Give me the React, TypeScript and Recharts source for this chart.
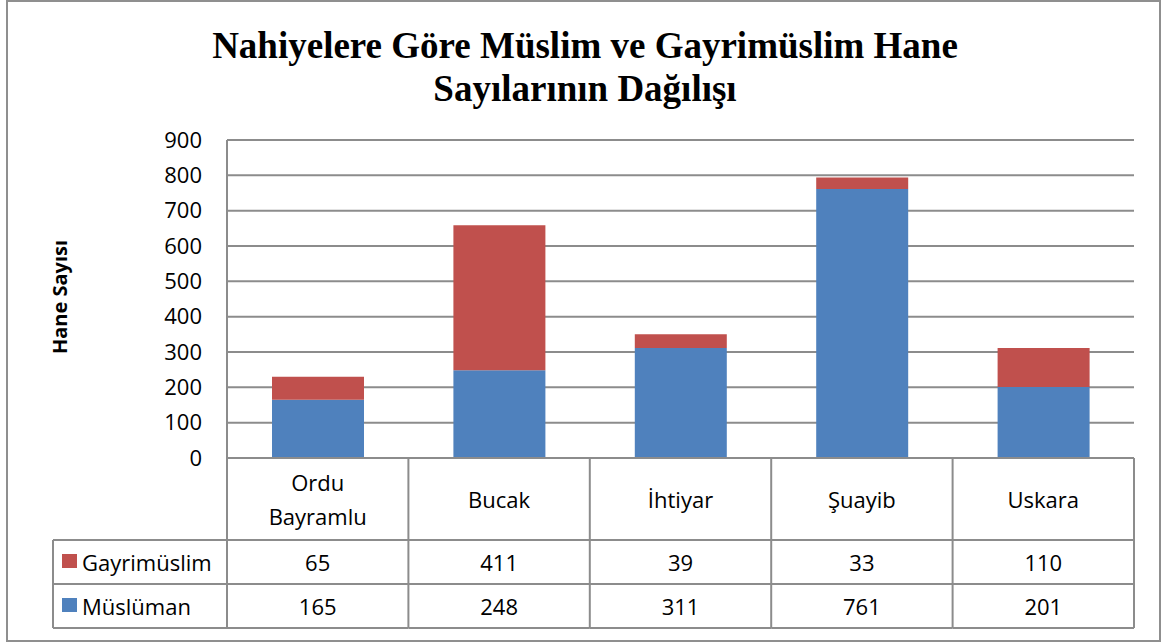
import { BarChart, Bar, XAxis, YAxis, CartesianGrid } from "recharts";

const categories = ["Ordu Bayramlu", "Bucak", "İhtiyar", "Şuayib", "Uskara"];
const muslim = [165, 248, 311, 761, 201];
const gayrimuslim = [65, 411, 39, 33, 110];
const yTicks = [0, 100, 200, 300, 400, 500, 600, 700, 800, 900];
const seriesNames = { gayri: "Gayrimüslim", muslim: "Müslüman" };

const BLUE = "#4F81BD";
const RED = "#C0504D";
const LINE = "#8c8c8c";
const FONT = "'Open Sans', sans-serif";
const FS = 22;

const PLOT_LEFT = 227;
const PLOT_RIGHT = 1134;
const TABLE_H = 171;
const CAT_ROW = 82;
const VAL_ROW = 44;
const LEGEND_LEFT = 53;

const data = categories.map((name, i) => ({
  name,
  muslim: muslim[i],
  gayri: gayrimuslim[i],
}));

function TableTick(props: any) {
  const { x, y, payload, index } = props;
  const cellW = (PLOT_RIGHT - PLOT_LEFT) / categories.length;
  const left = x - cellW / 2;
  const right = x + cellW / 2;
  const words = String(payload.value).split(" ");
  const lines = words.length > 1 ? words : [payload.value];
  const catMid = y + CAT_ROW / 2;
  const r1 = y + CAT_ROW;
  const r2 = r1 + VAL_ROW;
  const r3 = r2 + VAL_ROW;
  const txt = { fontFamily: FONT, fontSize: FS, fill: "#000" };
  return (
    <g>
      {lines.map((ln: string, k: number) => (
        <text
          key={k}
          x={x}
          y={catMid + (k - (lines.length - 1) / 2) * 34}
          textAnchor="middle"
          dominantBaseline="central"
          {...txt}
        >
          {ln}
        </text>
      ))}
      <text x={x} y={r1 + VAL_ROW / 2} textAnchor="middle" dominantBaseline="central" {...txt}>
        {gayrimuslim[index]}
      </text>
      <text x={x} y={r2 + VAL_ROW / 2} textAnchor="middle" dominantBaseline="central" {...txt}>
        {muslim[index]}
      </text>
      <line x1={right} y1={y} x2={right} y2={r3} stroke={LINE} strokeWidth={2} />
      <line x1={left} y1={r1} x2={right} y2={r1} stroke={LINE} strokeWidth={2} />
      <line x1={left} y1={r2} x2={right} y2={r2} stroke={LINE} strokeWidth={2} />
      <line x1={left} y1={r3} x2={right} y2={r3} stroke={LINE} strokeWidth={2} />
      {index === 0 && (
        <g>
          <line x1={left} y1={y} x2={left} y2={r3} stroke={LINE} strokeWidth={2} />
          <line x1={LEGEND_LEFT} y1={r1} x2={left} y2={r1} stroke={LINE} strokeWidth={2} />
          <line x1={LEGEND_LEFT} y1={r2} x2={left} y2={r2} stroke={LINE} strokeWidth={2} />
          <line x1={LEGEND_LEFT} y1={r3} x2={left} y2={r3} stroke={LINE} strokeWidth={2} />
          <line x1={LEGEND_LEFT} y1={r1} x2={LEGEND_LEFT} y2={r3} stroke={LINE} strokeWidth={2} />
          <rect x={62} y={r1 + 14} width={15} height={14} fill={RED} />
          <text x={82} y={r1 + VAL_ROW / 2} dominantBaseline="central" {...txt}>
            {seriesNames.gayri}
          </text>
          <rect x={62} y={r2 + 14} width={15} height={14} fill={BLUE} />
          <text x={82} y={r2 + VAL_ROW / 2} dominantBaseline="central" {...txt}>
            {seriesNames.muslim}
          </text>
        </g>
      )}
    </g>
  );
}

export default function App() {
  return (
    <div style={{ position: "absolute", left: 0, top: 0, width: 1163, height: 643, background: "#fff" }}>
      <div
        style={{
          position: "absolute",
          left: 6,
          top: 0,
          width: 1155,
          height: 642,
          border: "2px solid #8f8f8f",
          boxSizing: "border-box",
        }}
      />
      <BarChart
        width={1163}
        height={643}
        data={data}
        margin={{ top: 140, right: 1163 - PLOT_RIGHT, bottom: 643 - 458 - TABLE_H, left: PLOT_LEFT - 60 }}
        barSize={92}
      >
        <text
          x={585}
          y={58}
          textAnchor="middle"
          style={{ fontFamily: "'Liberation Serif', serif", fontWeight: 700, fontSize: 37 }}
        >
          Nahiyelere Göre Müslim ve Gayrimüslim Hane
        </text>
        <text
          x={585}
          y={101}
          textAnchor="middle"
          style={{ fontFamily: "'Liberation Serif', serif", fontWeight: 700, fontSize: 37 }}
        >
          Sayılarının Dağılışı
        </text>
        <text
          x={0}
          y={0}
          transform="translate(67, 297) rotate(-90)"
          textAnchor="middle"
          style={{ fontFamily: FONT, fontWeight: 700, fontSize: 20 }}
        >
          Hane Sayısı
        </text>
        <CartesianGrid vertical={false} stroke={LINE} strokeWidth={2} />
        <YAxis
          width={60}
          domain={[0, 900]}
          ticks={yTicks}
          interval={0}
          tickSize={0}
          tickMargin={25}
          tickLine={false}
          axisLine={{ stroke: LINE, strokeWidth: 2 }}
          tick={{ fill: "#000", fontFamily: FONT, fontSize: FS }}
        />
        <XAxis
          dataKey="name"
          height={TABLE_H}
          interval={0}
          tickSize={0}
          tickMargin={0}
          tickLine={false}
          axisLine={{ stroke: LINE, strokeWidth: 2 }}
          tick={<TableTick />}
        />
        <Bar dataKey="muslim" stackId="a" fill={BLUE} isAnimationActive={false} />
        <Bar dataKey="gayri" stackId="a" fill={RED} isAnimationActive={false} />
      </BarChart>
    </div>
  );
}
